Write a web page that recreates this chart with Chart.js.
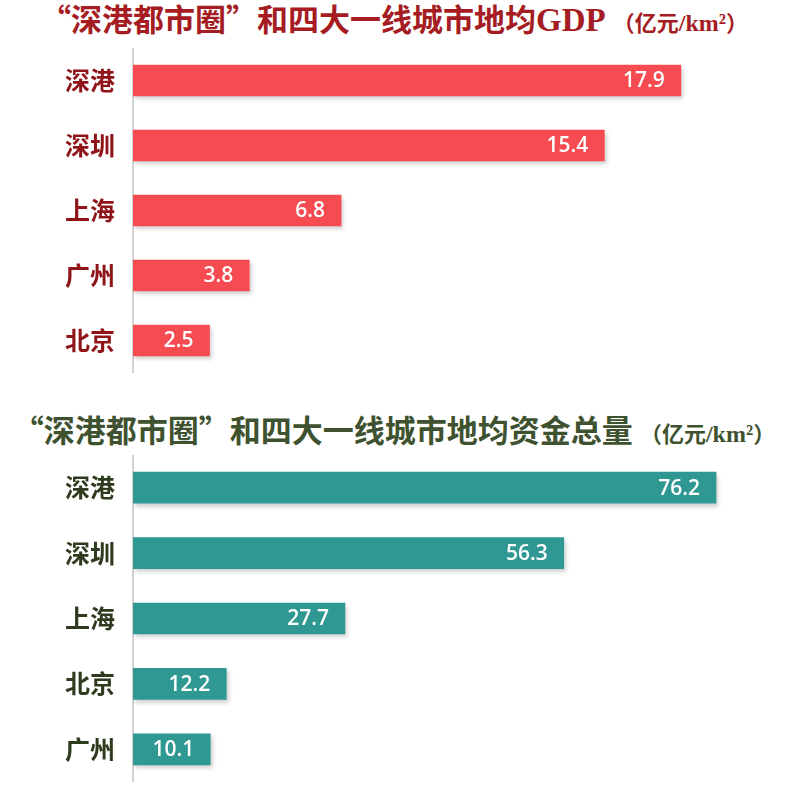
<!DOCTYPE html>
<html>
<head>
<meta charset="utf-8">
<script src="https://cdn.jsdelivr.net/npm/chart.js@4"></script>
<style>
  body { margin: 0; background: #fff; }
  #page { position: relative; width: 788px; height: 792px; overflow: hidden; }
  .title {
    position: absolute; left: 0; width: 788px; text-align: center;
    font-family: "Noto Sans CJK SC", sans-serif;
    font-weight: bold; font-size: 31px; white-space: nowrap; line-height: 1;
  }
  .title .lat { font-family: "Liberation Serif", serif; font-size: 33px; }
  .title small { font-size: 22px; font-weight: bold; }
  .title small .lat { font-size: 24px; }
  #t1 { top: 2px; color: #a51c22; }
  #t2 { top: 413px; color: #3f5230; }
  .box { position: absolute; left: 0; width: 788px; }
  #b1 { top: 48px; height: 325px; }
  #b2 { top: 455px; height: 327px; }
</style>
</head>
<body>
<div id="page">
  <div class="title" id="t1">“深港都市圈”和四大一线城市地均<span class="lat">GDP</span> <small>（亿元<span class="lat">/km²</span>）</small></div>
  <div class="box" id="b1"><canvas id="gdp"></canvas></div>
  <div class="title" id="t2">“深港都市圈”和四大一线城市地均资金总量 <small>（亿元<span class="lat">/km²</span>）</small></div>
  <div class="box" id="b2"><canvas id="fund"></canvas></div>
</div>
<script>
const gdpCities = ["深港", "深圳", "上海", "广州", "北京"];
const gdpValues = [17.9, 15.4, 6.8, 3.8, 2.5];
const fundCities = ["深港", "深圳", "上海", "北京", "广州"];
const fundValues = [76.2, 56.3, 27.7, 12.2, 10.1];

// soft drop shadow under the bars
const barShadow = {
  id: "barShadow",
  beforeDatasetDraw(chart) {
    const ctx = chart.ctx;
    ctx.save();
    ctx.shadowColor = "rgba(0,0,0,0.18)";
    ctx.shadowBlur = 4;
    ctx.shadowOffsetX = 2;
    ctx.shadowOffsetY = 3;
  },
  afterDatasetDraw(chart) {
    chart.ctx.restore();
  },
};

// white value text at the inner right end of each bar
const valueLabels = {
  id: "valueLabels",
  afterDatasetsDraw(chart) {
    const ctx = chart.ctx;
    const meta = chart.getDatasetMeta(0);
    const data = chart.data.datasets[0].data;
    ctx.save();
    ctx.fillStyle = "#ffffff";
    ctx.font = "600 21px 'Open Sans', sans-serif";
    ctx.textAlign = "right";
    ctx.textBaseline = "middle";
    meta.data.forEach((bar, i) => {
      ctx.fillText(data[i].toFixed(1), bar.x - 16, bar.y + 1);
    });
    ctx.restore();
  },
};

function makeChart(id, labels, values, barColor, labelColor, xMax) {
  return new Chart(document.getElementById(id), {
    type: "bar",
    data: {
      labels: labels,
      datasets: [{
        data: values,
        backgroundColor: barColor,
        barThickness: 31,
        borderWidth: 0,
      }],
    },
    plugins: [barShadow, valueLabels],
    options: {
      indexAxis: "y",
      responsive: true,
      maintainAspectRatio: false,
      animation: false,
      layout: { padding: 0 },
      plugins: {
        legend: { display: false },
        tooltip: { enabled: false },
      },
      scales: {
        x: { display: false, min: 0, max: xMax },
        y: {
          afterFit(scale) {
            scale.width = 133;
            scale.paddingTop = 0;
            scale.paddingBottom = 0;
          },
          grid: { display: false },
          border: { display: true, color: "#d2d2d2", width: 2 },
          ticks: {
            color: labelColor,
            padding: 10,
            font: { family: "'Noto Sans CJK SC', serif", size: 25, weight: "bold" },
          },
        },
      },
    },
  });
}

makeChart("gdp", gdpCities, gdpValues, "#f64b51", "#8e1418", 21.4);
makeChart("fund", fundCities, fundValues, "#2f9893", "#2f3b1f", 85.6);
</script>
</body>
</html>
